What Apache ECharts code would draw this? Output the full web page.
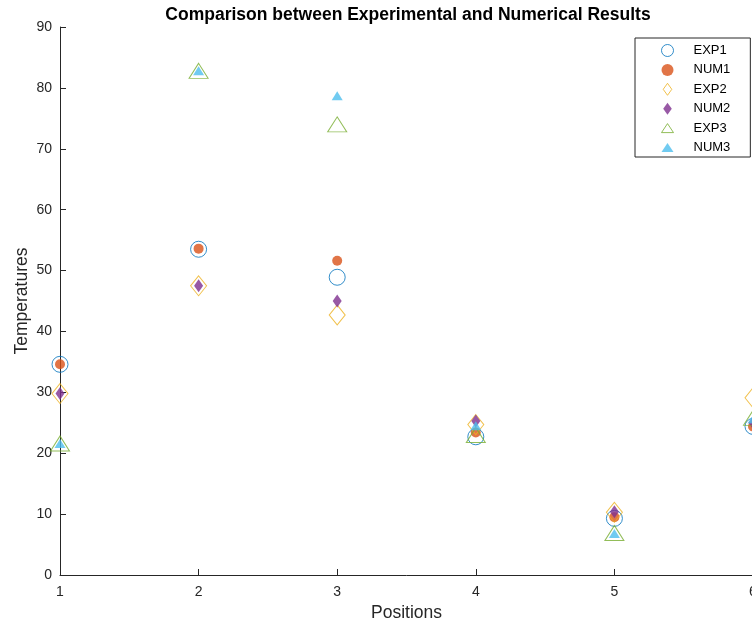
<!DOCTYPE html>
<html>
<head>
<meta charset="utf-8">
<script src="https://cdn.jsdelivr.net/npm/echarts@6/dist/echarts.min.js"></script>
<style>html,body{margin:0;padding:0;background:#fff}#c{width:752px;height:625px}</style>
</head>
<body>
<div id="c"></div>
<script>
const positions = [1, 2, 3, 4, 5, 6];
const exp1 = [34.6, 53.5, 48.9, 22.7, 9.3, 24.4];
const num1 = [34.6, 53.6, 51.6, 23.4, 9.5, 24.4];
const exp2 = [29.8, 47.5, 42.7, 24.7, 10.3, 29.1];
const num2 = [29.8, 47.5, 45.0, 25.3, 10.4, 25.0];
const exp3 = [21.6, 82.8, 74.0, 23.0, 6.9, 25.8];
const num3 = [21.6, 82.8, 78.7, 24.5, 6.8, 25.6];
const seriesNames = ['EXP1', 'NUM1', 'EXP2', 'NUM2', 'EXP3', 'NUM3'];
const yTicks = [0, 10, 20, 30, 40, 50, 60, 70, 80, 90];

const FONT = 'Liberation Sans, Arial, Helvetica, sans-serif';
const AX = '#262626';
const pair = (vals) => positions.map((p, i) => [p, vals[i]]);

const defs = [
  { data: exp1, symbol: 'circle', size: 16, color: '#0072BD', empty: true, icon: 'circle' },
  { data: num1, symbol: 'circle', size: 10, color: '#D95319', empty: false, icon: 'circle' },
  { data: exp2, symbol: 'diamond', size: [16, 20], color: '#EDB120', empty: true, icon: 'path://M5,0L10,7L5,14L0,7Z' },
  { data: num2, symbol: 'diamond', size: [9, 13], color: '#7E2F8E', empty: false, icon: 'path://M5,0L10,7L5,14L0,7Z' },
  { data: exp3, symbol: 'triangle', size: [19, 15], color: '#77AC30', empty: true, icon: 'path://M6,0L12,9L0,9Z' },
  { data: num3, symbol: 'triangle', size: [11, 9], color: '#4DBEEE', empty: false, icon: 'path://M6,0L12,9L0,9Z' }
];

const series = defs.map((d, i) => ({
  name: seriesNames[i],
  type: 'scatter',
  data: pair(d.data),
  symbol: d.symbol,
  symbolSize: d.size,
  silent: true,
  itemStyle: d.empty
    ? { color: 'rgba(255,255,255,0)', borderColor: d.color, borderWidth: 1 }
    : { color: d.color, borderWidth: 0 },
  emphasis: { disabled: true }
}));

const chart = echarts.init(document.getElementById('c'), null, { renderer: 'canvas' });
chart.setOption({
  animation: false,
  backgroundColor: '#fff',
  graphic: [{
    type: 'text', x: 408, y: 15,
    style: {
      text: 'Comparison between Experimental and Numerical Results',
      font: 'bold 17.5px ' + FONT, fill: '#000', align: 'center', verticalAlign: 'middle'
    }
  }],
  grid: { left: 60, top: 27, width: 693, height: 548, containLabel: false, outerBoundsMode: 'none' },
  legend: {
    orient: 'vertical',
    left: 635, top: 38,
    padding: [6, 20, 3, 26],
    itemWidth: 12, itemHeight: 12, itemGap: 6.4,
    backgroundColor: '#fff',
    borderColor: AX, borderWidth: 1, borderRadius: 0,
    selectedMode: false,
    itemStyle: { borderWidth: 1 },
    textStyle: { fontFamily: FONT, fontSize: 13, color: '#000', padding: [0, 0, 0, 15] },
    data: seriesNames.map((n, i) => ({ name: n, icon: defs[i].icon }))
  },
  xAxis: {
    type: 'value', min: 1, max: 6, interval: 1,
    name: 'Positions', nameLocation: 'middle', nameGap: 29, nameMoveOverlap: false,
    nameTextStyle: { fontFamily: FONT, fontSize: 17.5, color: AX },
    axisLine: { show: true, lineStyle: { color: AX, width: 1 } },
    axisTick: { show: true, inside: true, length: 6, lineStyle: { color: AX } },
    axisLabel: { fontFamily: FONT, fontSize: 14, color: AX, margin: 10 },
    splitLine: { show: false }
  },
  yAxis: {
    type: 'value', min: yTicks[0], max: yTicks[yTicks.length - 1], interval: 10,
    name: 'Temperatures', nameLocation: 'middle', nameGap: 29, nameMoveOverlap: false,
    nameTextStyle: { fontFamily: FONT, fontSize: 17.5, color: AX },
    axisLine: { show: true, lineStyle: { color: AX, width: 1 } },
    axisTick: { show: true, inside: true, length: 6, lineStyle: { color: AX } },
    axisLabel: { fontFamily: FONT, fontSize: 14, color: AX, margin: 8 },
    splitLine: { show: false }
  },
  series: series
});
</script>
</body>
</html>
